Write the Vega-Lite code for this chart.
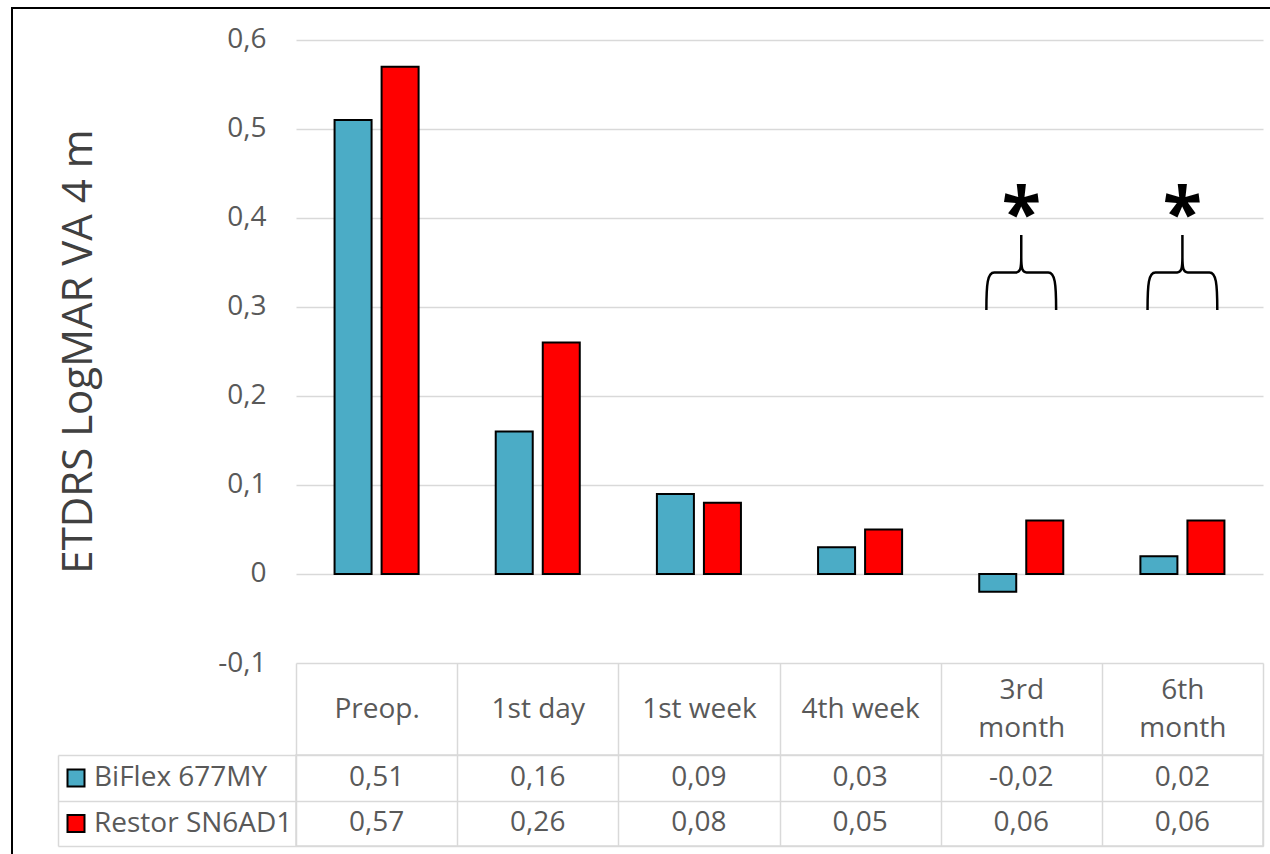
{
  "$schema": "https://vega.github.io/schema/vega-lite/v6.json",
  "padding": {"left": 11, "top": 7, "right": 0, "bottom": 0},
  "background": "white",
  "config": {
    "font": "Open Sans",
    "view": {"stroke": null},
    "locale": {"number": {"decimal": ",", "thousands": ".", "grouping": [3], "currency": ["", " €"], "minus": "-"}}
  },
  "datasets": {
    "va": [
      {"time": "Preop.", "lens": "BiFlex 677MY", "value": 0.51},
      {"time": "Preop.", "lens": "Restor SN6AD1", "value": 0.57},
      {"time": "1st day", "lens": "BiFlex 677MY", "value": 0.16},
      {"time": "1st day", "lens": "Restor SN6AD1", "value": 0.26},
      {"time": "1st week", "lens": "BiFlex 677MY", "value": 0.09},
      {"time": "1st week", "lens": "Restor SN6AD1", "value": 0.08},
      {"time": "4th week", "lens": "BiFlex 677MY", "value": 0.03},
      {"time": "4th week", "lens": "Restor SN6AD1", "value": 0.05},
      {"time": "3rd month", "lens": "BiFlex 677MY", "value": -0.02},
      {"time": "3rd month", "lens": "Restor SN6AD1", "value": 0.06},
      {"time": "6th month", "lens": "BiFlex 677MY", "value": 0.02},
      {"time": "6th month", "lens": "Restor SN6AD1", "value": 0.06}
    ],
    "sig": [
      {"time": "3rd month", "mark": "*"},
      {"time": "6th month", "mark": "*"}
    ],
    "frame": [{}]
  },
  "vconcat": [
    {
      "width": 1259,
      "height": 2,
      "data": {"name": "frame"},
      "mark": {"type": "rect", "color": "black"},
      "encoding": {}
    },
    {
      "hconcat": [
        {
          "width": 2,
          "height": 845,
          "data": {"name": "frame"},
          "mark": {"type": "rect", "color": "black"},
          "encoding": {}
        },
        {
          "vconcat": [
            {
              "width": 967,
              "height": 654,
              "layer": [
                {
                  "data": {"name": "va"},
                  "mark": {"type": "bar", "stroke": "black", "strokeWidth": 2},
                  "encoding": {
                    "x": {
                      "field": "time", "type": "nominal",
                      "sort": ["Preop.", "1st day", "1st week", "4th week", "3rd month", "6th month"],
                      "scale": {"paddingInner": 0, "paddingOuter": 0},
                      "axis": {
                        "title": null, "labelAngle": 0, "labelFontSize": 28, "labelColor": "#595959",
                        "labelBaseline": "middle",
                        "labelPadding": {"condition": {"test": "indexof(datum.label, 'month') > 0", "value": -65}, "value": -46},
                        "labelLineHeight": 38,
                        "labelExpr": "indexof(datum.label, 'month') > 0 ? split(datum.label, ' ') : datum.label",
                        "ticks": true, "tickBand": "extent", "tickSize": 92, "tickColor": "#d9d9d9", "tickWidth": 1.5,
                        "domain": false, "grid": false, "labelLimit": 300
                      }
                    },
                    "xOffset": {
                      "field": "lens", "type": "nominal", "sort": ["BiFlex 677MY", "Restor SN6AD1"],
                      "scale": {"paddingInner": 0.213, "paddingOuter": 0.82}
                    },
                    "y": {
                      "field": "value", "type": "quantitative",
                      "scale": {"domain": [-0.1, 0.6348], "nice": false},
                      "axis": {
                        "title": "ETDRS LogMAR VA 4 m", "titleFontSize": 42, "titleFontWeight": "normal",
                        "titleColor": "#404040", "titlePadding": 117, "titleY": 342,
                        "values": [-0.1, 0, 0.1, 0.2, 0.3, 0.4, 0.5, 0.6], "format": ".1~f",
                        "labelFontSize": 28, "labelColor": "#595959", "labelPadding": 30,
                        "ticks": false, "domain": false, "grid": true, "gridColor": "#d9d9d9", "gridWidth": 1.5
                      }
                    },
                    "color": {
                      "field": "lens", "type": "nominal",
                      "scale": {"domain": ["BiFlex 677MY", "Restor SN6AD1"], "range": ["#4BACC6", "#FF0000"]},
                      "legend": null
                    }
                  }
                },
                {
                  "data": {"name": "sig"},
                  "mark": {
                    "type": "point",
                    "shape": "M -0.93 1 C -0.93 0.3 -0.9 0 -0.72 0 L -0.14 0 C -0.03 0 0 -0.1 0 -0.4 L 0 -1 M 0 -0.4 C 0 -0.1 0.03 0 0.14 0 L 0.72 0 C 0.9 0 0.93 0.3 0.93 1",
                    "size": 5625, "filled": false, "stroke": "black", "strokeWidth": 2.5, "opacity": 1
                  },
                  "encoding": {
                    "x": {"field": "time", "type": "nominal", "sort": ["Preop.", "1st day", "1st week", "4th week", "3rd month", "6th month"]},
                    "y": {"datum": 0.3388}
                  }
                },
                {
                  "data": {"name": "sig"},
                  "mark": {"type": "text", "fontSize": 72, "fontWeight": "bold", "baseline": "alphabetic", "color": "black"},
                  "encoding": {
                    "x": {"field": "time", "type": "nominal", "sort": ["Preop.", "1st day", "1st week", "4th week", "3rd month", "6th month"]},
                    "y": {"datum": 0.3766},
                    "text": {"field": "mark"}
                  }
                }
              ]
            },
            {
              "width": 967,
              "height": 91,
              "view": {"stroke": "#d9d9d9", "strokeWidth": 1.5},
              "data": {"name": "va"},
              "layer": [
                {
                  "mark": {"type": "text", "fontSize": 28, "color": "#595959", "baseline": "middle"},
                  "encoding": {
                    "x": {
                      "field": "time", "type": "nominal",
                      "sort": ["Preop.", "1st day", "1st week", "4th week", "3rd month", "6th month"],
                      "scale": {"paddingInner": 0, "paddingOuter": 0},
                      "axis": {"title": null, "labels": false, "ticks": false, "domain": false, "grid": true, "tickBand": "extent", "gridColor": "#d9d9d9", "gridWidth": 1.5}
                    },
                    "y": {
                      "field": "lens", "type": "nominal", "sort": ["BiFlex 677MY", "Restor SN6AD1"],
                      "scale": {"paddingInner": 0, "paddingOuter": 0},
                      "axis": {"title": null, "labels": false, "domain": false, "ticks": true, "tickBand": "extent", "tickSize": 238, "tickColor": "#d9d9d9", "tickWidth": 1.5, "grid": true, "gridColor": "#d9d9d9", "gridWidth": 1.5}
                    },
                    "text": {"field": "value", "type": "quantitative", "format": ".2f"}
                  }
                },
                {
                  "mark": {"type": "square", "opacity": 0, "size": 10},
                  "encoding": {
                    "x": {
                      "field": "time", "type": "nominal",
                      "sort": ["Preop.", "1st day", "1st week", "4th week", "3rd month", "6th month"]
                    },
                    "y": {
                      "field": "lens", "type": "nominal", "sort": ["BiFlex 677MY", "Restor SN6AD1"],
                      "axis": {"orient": "left", "offset": 238, "title": null, "labels": false, "ticks": false, "grid": false, "domain": true, "domainColor": "#d9d9d9", "domainWidth": 1.5}
                    },
                    "color": {
                      "field": "lens", "type": "nominal",
                      "scale": {"domain": ["BiFlex 677MY", "Restor SN6AD1"], "range": ["#4BACC6", "#FF0000"]},
                      "legend": {
                        "orient": "none", "legendX": -234, "legendY": 9, "title": null, "direction": "vertical",
                        "symbolType": "square", "symbolSize": 289, "symbolStrokeColor": "black", "symbolStrokeWidth": 2,
                        "symbolOpacity": 1, "labelFontSize": 28, "labelColor": "#595959", "labelOffset": 4,
                        "rowPadding": 17.5, "padding": 0, "labelLimit": 300
                      }
                    }
                  }
                }
              ],
              "resolve": {"axis": {"y": "independent"}}
            }
          ],
          "spacing": 92,
          "bounds": "flush",
          "resolve": {"scale": {"color": "independent"}}
        }
      ],
      "spacing": 43
    }
  ],
  "spacing": 0
}
